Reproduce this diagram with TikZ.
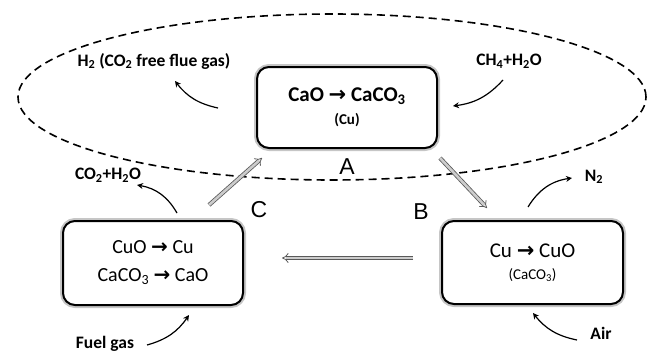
\documentclass[tikz,border=0pt]{standalone}
\usepackage{fontspec}
\setmainfont{Carlito}
\newfontfamily\arrfont{DejaVu Sans}
\newfontfamily\letterfont{Liberation Sans}
\usetikzlibrary{arrows.meta,shapes.geometric}
\newcommand{\ra}{{\arrfont\bfseries →}}
\begin{document}
\begin{tikzpicture}[x=1pt,y=-1pt,
  box/.style={draw=black,line width=2pt,rounded corners=12pt,align=center,
    preaction={draw=gray!45,line width=6pt},fill=white,inner sep=0pt},
  lbl/.style={font=\fontsize{17.5}{19}\selectfont\bfseries,inner sep=0pt},
  big/.style={font=\fontsize{23}{26}\selectfont\letterfont,inner sep=0pt},
  thin/.style={line width=1.2pt,-{Stealth[length=6pt,width=6pt]}},
  dbl/.style={draw=gray!70!black,line width=0.8pt,double=gray!40,double distance=2.6pt,-{Implies}},
  big text/.style={font=\fontsize{21}{25}\selectfont}
]
\useasboundingbox (0,0) rectangle (651,356);
% ellipse
\node[draw=black,line width=1.6pt,dash pattern=on 8pt off 5pt,ellipse,
  minimum width=628pt,minimum height=166pt,inner sep=0pt] (ell) at (332,97) {};
% boxes
\node[box,big text,minimum width=180pt,minimum height=81pt] (A) at (347,107.5)
  {\bfseries CaO \ra{} CaCO\textsubscript{3}\\[-2pt]{\fontsize{15}{16}\selectfont\bfseries (Cu)}};
\node[box,font=\fontsize{20}{28}\selectfont,minimum width=180pt,minimum height=84pt] (C) at (153,263)
  {CuO \ra{} Cu\\CaCO\textsubscript{3} \ra{} CaO};
\node[box,big text,minimum width=181pt,minimum height=83pt] (B) at (532.5,262.5)
  {Cu \ra{} CuO\\[-3pt]{\fontsize{15}{16}\selectfont (CaCO\textsubscript{3})}};
% letters
\node[big] (la) at (347,167) {A};
\node[big] (lb) at (421,212) {B};
\node[big] (lc) at (259,210) {C};
% labels
\node[lbl] (h2) at (154,61) {H\textsubscript{2} (CO\textsubscript{2} free flue gas)};
\node[lbl] (ch4) at (509,61) {CH\textsubscript{4}+H\textsubscript{2}O};
\node[lbl] (co2) at (108,175) {CO\textsubscript{2}+H\textsubscript{2}O};
\node[lbl] (n2) at (594,177) {N\textsubscript{2}};
\node[lbl] (air) at (601,333) {Air};
\node[lbl] (fuel) at (105,344) {Fuel gas};
% thin curved arrows
\coordinate (a1s) at (218,108); \coordinate (a1e) at (175,81);
\draw[thin] (a1s) to[bend left=20] (a1e);
\coordinate (a2s) at (503,80); \coordinate (a2e) at (453,106);
\draw[thin] (a2s) to[bend left=20] (a2e);
\coordinate (a3s) at (177,213); \coordinate (a3e) at (137,185);
\draw[thin] (a3s) to[bend right=25] (a3e);
\coordinate (a4s) at (528,207); \coordinate (a4e) at (572,178);
\draw[thin] (a4s) to[bend left=25] (a4e);
\coordinate (a5s) at (577,340); \coordinate (a5e) at (533,313);
\draw[thin] (a5s) to[bend left=20] (a5e);
\coordinate (a6s) at (147,345); \coordinate (a6e) at (189,315);
\draw[thin] (a6s) to[bend right=20] (a6e);
% double arrows
\coordinate (d1s) at (209,205); \coordinate (d1e) at (262,158);
\draw[dbl] (d1s) -- (d1e);
\coordinate (d2s) at (440,158); \coordinate (d2e) at (487,208);
\draw[dbl] (d2s) -- (d2e);
\coordinate (d3s) at (413,258); \coordinate (d3e) at (282,258);
\draw[dbl] (d3s) -- (d3e);
\end{tikzpicture}
\end{document}
